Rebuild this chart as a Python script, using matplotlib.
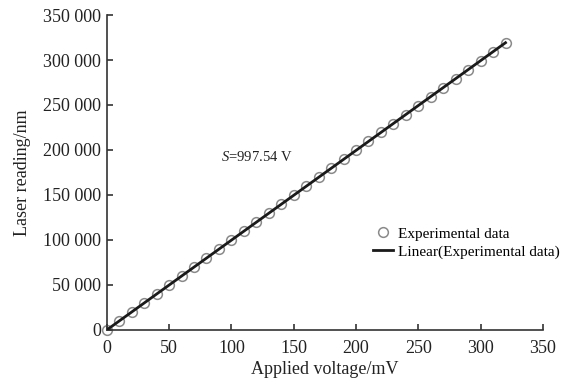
import matplotlib
matplotlib.use("Agg")
import matplotlib.pyplot as plt
import numpy as np

plt.rcParams['font.family'] = ['Liberation Serif', 'DejaVu Serif']
plt.rcParams['mathtext.fontset'] = 'custom'
plt.rcParams['mathtext.it'] = 'Liberation Serif:italic'
plt.rcParams['mathtext.rm'] = 'Liberation Serif'

voltage = [0, 10, 20, 30, 40, 50, 60, 70, 80, 90, 100, 110, 120, 130, 140, 150,
           160, 170, 180, 190, 200, 210, 220, 230, 240, 250, 260, 270, 280, 290,
           300, 310, 320]
reading = [0, 9980, 19950, 29930, 39900, 49880, 59850, 69830, 79800, 89780,
           99750, 109730, 119700, 129680, 139660, 149630, 159610, 169580, 179560,
           189530, 199510, 209480, 219460, 229430, 239410, 249390, 259360, 269340,
           279310, 289290, 299260, 309240, 319210]
fit_x = [0, 320]
fit_y = [0, 319213]

x_ticks = [0, 50, 100, 150, 200, 250, 300, 350]
y_ticks = [0, 50000, 100000, 150000, 200000, 250000, 300000, 350000]
y_labels = ['0', '50 000', '100 000', '150 000', '200 000', '250 000', '300 000', '350 000']

fig = plt.figure(figsize=(5.62, 3.85), dpi=100)
ax = fig.add_axes([0.19, 0.143, 0.776, 0.818])

ax.plot(voltage, reading, linestyle='none', marker='o', markersize=7,
        markerfacecolor='none', markeredgecolor='#8a8a8a', markeredgewidth=1.1,
        label='Experimental data', clip_on=False, zorder=2)
ax.plot(fit_x, fit_y, color='#1a1a1a', linewidth=2, label='Linear(Experimental data)', zorder=3)

ax.set_xlim(0, 350)
ax.set_ylim(0, 350000)
ax.set_xticks(x_ticks)
ax.set_yticks(y_ticks)
ax.set_yticklabels(y_labels)
ax.spines['top'].set_visible(False)
ax.spines['right'].set_visible(False)
for s in ['left', 'bottom']:
    ax.spines[s].set_linewidth(1.2)
    ax.spines[s].set_color('#333333')
ax.tick_params(direction='in', length=4, width=1.2, labelsize=13, colors='#333333',
               labelcolor='#222222', pad=4)
ax.tick_params(axis='x', pad=7)

ax.set_xlabel('Applied voltage/mV', fontsize=13, color='#222222', labelpad=3)
ax.set_ylabel('Laser reading/nm', fontsize=13, color='#222222', labelpad=9)

ax.text(92, 192000, '$S$=997.54 V', fontsize=10.5, color='#222222', va='center')

leg = fig.legend(loc='upper left', bbox_to_anchor=(0.664, 0.41), frameon=False,
                 fontsize=11, handlelength=1.3, handletextpad=0.3, labelspacing=0.25,
                 borderaxespad=0, borderpad=0)

fig.savefig('out.png', dpi=100)
